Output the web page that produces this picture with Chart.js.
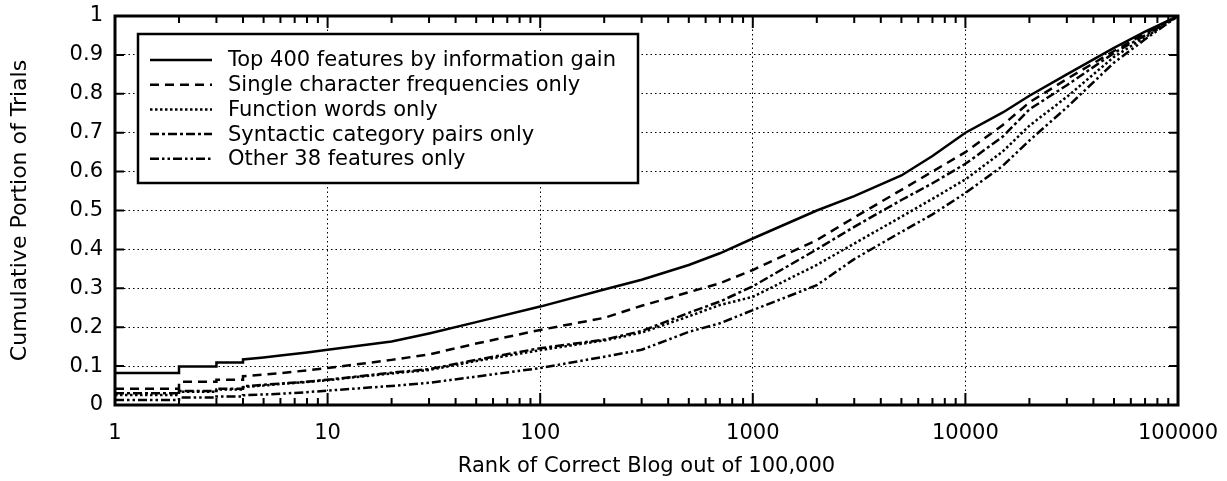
<!DOCTYPE html>
<html>
<head>
<meta charset="utf-8">
<script src="https://cdn.jsdelivr.net/npm/chart.js@4/dist/chart.umd.min.js"></script>
<style>
  html, body { margin: 0; padding: 0; background: #fff; }
  #wrap { width: 1227px; height: 481px; position: relative; }
</style>
</head>
<body>
<div id="wrap"><canvas id="cdf"></canvas></div>
<script>
// --- Data ---
// rank values; repeated ranks make the early steps
const ranks = [1, 2, 2, 3, 3, 4, 4, 5, 6, 8, 10, 20, 30, 50, 100, 200, 300, 500, 700, 1000,
               2000, 3000, 5000, 7000, 10000, 15000, 20000, 30000, 50000, 70000, 100000];

const topFeatures = [0.082, 0.082, 0.099, 0.099, 0.109, 0.109, 0.117, 0.122, 0.127, 0.135, 0.142,
                     0.163, 0.184, 0.213, 0.253, 0.297, 0.322, 0.36, 0.39, 0.428,
                     0.50, 0.537, 0.59, 0.64, 0.70, 0.752, 0.795, 0.85, 0.918, 0.96, 1.0];
const singleChar = [0.042, 0.042, 0.06, 0.06, 0.065, 0.065, 0.074, 0.078, 0.082, 0.089, 0.095,
                    0.116, 0.13, 0.158, 0.193, 0.224, 0.255, 0.29, 0.313, 0.347,
                    0.424, 0.482, 0.553, 0.60, 0.65, 0.72, 0.778, 0.838, 0.91, 0.955, 1.0];
const functionWords = [0.026, 0.026, 0.034, 0.034, 0.04, 0.04, 0.046, 0.05, 0.054, 0.059, 0.064,
                       0.081, 0.09, 0.113, 0.141, 0.166, 0.186, 0.228, 0.257, 0.278,
                       0.36, 0.415, 0.484, 0.53, 0.58, 0.652, 0.718, 0.792, 0.895, 0.945, 1.0];
const syntacticPairs = [0.03, 0.03, 0.036, 0.036, 0.042, 0.042, 0.048, 0.052, 0.055, 0.06, 0.065,
                        0.083, 0.092, 0.116, 0.146, 0.168, 0.19, 0.237, 0.266, 0.305,
                        0.40, 0.458, 0.527, 0.57, 0.62, 0.69, 0.76, 0.822, 0.905, 0.95, 1.0];
const otherFeatures = [0.013, 0.013, 0.019, 0.019, 0.022, 0.022, 0.025, 0.027, 0.029, 0.033, 0.037,
                       0.049, 0.057, 0.073, 0.095, 0.124, 0.142, 0.188, 0.21, 0.244,
                       0.308, 0.375, 0.445, 0.49, 0.545, 0.615, 0.68, 0.765, 0.88, 0.94, 1.0];

const seriesLabels = [
    'Top 400 features by information gain',
    'Single character frequencies only',
    'Function words only',
    'Syntactic category pairs only',
    'Other 38 features only'
];
const xTickValues = [1, 10, 100, 1000, 10000, 100000];
const yTickValues = [0, 0.1, 0.2, 0.3, 0.4, 0.5, 0.6, 0.7, 0.8, 0.9, 1];

const FONT = 'DejaVu Sans';
const dashes = [[], [9, 6], [2.5, 2.5], [9, 3, 3, 3], [9, 3, 2.5, 3, 2.5, 3]];

function toPoints(values) {
    return values.map((v, i) => ({ x: ranks[i], y: v }));
}

const allSeries = [topFeatures, singleChar, functionWords, syntacticPairs, otherFeatures];
const datasets = allSeries.map((s, i) => ({
    label: seriesLabels[i],
    data: toPoints(s),
    borderColor: '#000',
    borderWidth: 2.5,
    borderDash: dashes[i],
    pointRadius: 0,
    tension: 0,
    fill: false
}));

// --- Frame, inward tick marks ---
const framePlugin = {
    id: 'frame',
    afterDatasetsDraw(chart) {
        const { ctx, chartArea: a, scales } = chart;
        const xs = scales.x, ys = scales.y;
        ctx.save();
        ctx.strokeStyle = '#000';
        ctx.lineWidth = 2;
        ctx.setLineDash([]);
        ctx.beginPath();
        // x ticks, major and minor, bottom and top
        for (let d = 1; d <= 100000; d *= 10) {
            for (let m = 1; m <= 9; m++) {
                const v = d * m;
                if (v > 100000) break;
                const px = xs.getPixelForValue(v);
                const len = m === 1 ? 12 : 7;
                ctx.moveTo(px, a.bottom); ctx.lineTo(px, a.bottom - len);
                ctx.moveTo(px, a.top); ctx.lineTo(px, a.top + len);
            }
        }
        yTickValues.forEach(v => {
            const py = ys.getPixelForValue(v);
            ctx.moveTo(a.left, py); ctx.lineTo(a.left + 9, py);
            ctx.moveTo(a.right, py); ctx.lineTo(a.right - 9, py);
        });
        ctx.stroke();
        ctx.lineWidth = 3;
        ctx.strokeRect(a.left, a.top, a.right - a.left, a.bottom - a.top);
        ctx.restore();
    }
};

// --- Boxed legend inside the plot ---
const boxLegend = {
    id: 'boxLegend',
    afterDraw(chart) {
        const { ctx, chartArea: a } = chart;
        const x0 = a.left + 23, y0 = a.top + 18, w = 500, h = 149;
        ctx.save();
        ctx.fillStyle = '#fff';
        ctx.fillRect(x0, y0, w, h);
        ctx.strokeStyle = '#000';
        ctx.lineWidth = 2.5;
        ctx.strokeRect(x0, y0, w, h);
        ctx.font = '21px "' + FONT + '"';
        ctx.textBaseline = 'middle';
        ctx.fillStyle = '#000';
        chart.data.datasets.forEach((ds, i) => {
            const cy = y0 + 26 + i * 24.7;
            ctx.setLineDash(ds.borderDash);
            ctx.lineWidth = 2.5;
            ctx.beginPath();
            ctx.moveTo(x0 + 12, cy);
            ctx.lineTo(x0 + 74, cy);
            ctx.stroke();
            ctx.setLineDash([]);
            ctx.fillText(ds.label, x0 + 90, cy + 1);
        });
        ctx.restore();
    }
};

const ctxChart = document.getElementById('cdf').getContext('2d');
new Chart(ctxChart, {
    type: 'line',
    data: { datasets },
    options: {
        responsive: true,
        maintainAspectRatio: false,
        animation: false,
        layout: { padding: { left: 0, right: 49, top: 16, bottom: 0 } },
        scales: {
            x: {
                type: 'logarithmic',
                min: 1,
                max: 100000,
                afterBuildTicks: (scale) => {
                    scale.ticks = xTickValues.map(v => ({ value: v }));
                },
                afterFit: (scale) => {
                    scale.height = 76;
                    scale.paddingLeft = 0;
                    scale.paddingRight = 0;
                },
                grid: { color: '#000', lineWidth: 1, drawTicks: false },
                border: { display: false, dash: [1.5, 3] },
                ticks: {
                    autoSkip: false,
                    maxRotation: 0,
                    padding: 16,
                    color: '#000',
                    font: { family: FONT, size: 21 },
                    callback: (v) => String(v)
                },
                title: {
                    display: true,
                    text: 'Rank of Correct Blog out of 100,000',
                    color: '#000',
                    font: { family: FONT, size: 21 },
                    padding: { top: 0, bottom: 2 }
                }
            },
            y: {
                type: 'linear',
                min: 0,
                max: 1,
                afterBuildTicks: (scale) => {
                    scale.ticks = yTickValues.map(v => ({ value: v }));
                },
                afterFit: (scale) => {
                    scale.width = 115;
                    scale.paddingTop = 0;
                    scale.paddingBottom = 0;
                },
                grid: { color: '#000', lineWidth: 1, drawTicks: false },
                border: { display: false, dash: [1.5, 3] },
                ticks: {
                    padding: 12,
                    color: '#000',
                    font: { family: FONT, size: 21 },
                    callback: (v) => String(Math.round(v * 10) / 10)
                },
                title: {
                    display: true,
                    text: 'Cumulative Portion of Trials',
                    color: '#000',
                    font: { family: FONT, size: 22 },
                    padding: { top: 7, bottom: 0 }
                }
            }
        },
        plugins: {
            legend: { display: false },
            tooltip: { enabled: false }
        }
    },
    plugins: [framePlugin, boxLegend]
});
</script>
</body>
</html>
